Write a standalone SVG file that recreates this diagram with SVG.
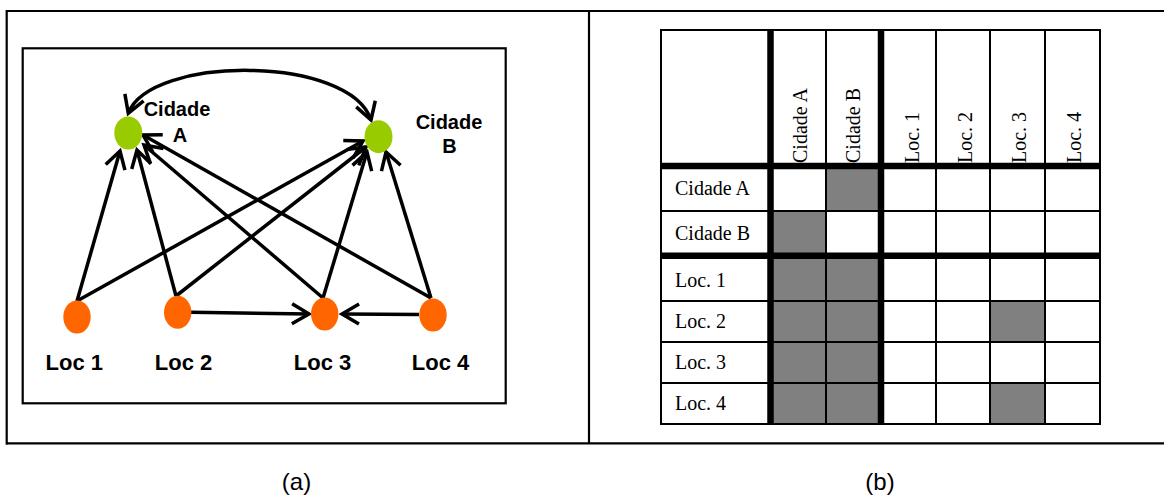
<svg xmlns="http://www.w3.org/2000/svg" width="1164" height="495" viewBox="0 0 1164 495">
<style>
.frame{fill:none;stroke:#000;stroke-width:2.2}
.edge{fill:none;stroke:#000;stroke-width:3.5;marker-end:url(#arr)}
.green{fill:#99CC00}
.orange{fill:#FF6600}
.lbl{font-family:"Liberation Sans",Arial,sans-serif;font-weight:bold;fill:#000;text-anchor:middle}
.cap{font-family:"Liberation Sans",Arial,sans-serif;font-size:24px;fill:#000;text-anchor:middle}
.tt{font-family:"Liberation Serif","Times New Roman",serif;font-size:20px;fill:#000}
.gray{fill:#808080}
.thin{stroke:#000;stroke-width:2}
.thick{stroke:#000;stroke-width:6.5}
</style>
<defs>
<marker id="arr" markerUnits="userSpaceOnUse" markerWidth="40" markerHeight="40" viewBox="-20 -20 40 40" refX="0" refY="0" orient="auto" overflow="visible">
<path d="M-17,-10 L0,0 L-17,10" fill="none" stroke="#000" stroke-width="3.5" stroke-linejoin="miter"/>
</marker>
<marker id="arrs" markerUnits="userSpaceOnUse" markerWidth="40" markerHeight="40" viewBox="-20 -20 40 40" refX="0" refY="0" orient="auto-start-reverse" overflow="visible">
<path d="M-17,-10 L0,0 L-17,10" fill="none" stroke="#000" stroke-width="3.5" stroke-linejoin="miter"/>
</marker>
</defs>

<g id="frame">
<line class="frame" x1="6" y1="11" x2="1164" y2="11"/>
<line class="frame" x1="6" y1="443.3" x2="1164" y2="443.3"/>
<line class="frame" x1="6.7" y1="10" x2="6.7" y2="444.4"/>
<line class="frame" x1="589" y1="11" x2="589" y2="443.3"/>
<rect class="frame" x="22.7" y="48.3" width="483" height="355"/>
</g>

<g id="connectors">
<line class="edge" x1="77" y1="301" x2="120" y2="151"/>
<line class="edge" x1="77" y1="301" x2="363" y2="141"/>
<line class="edge" x1="176" y1="296" x2="137" y2="150"/>
<line class="edge" x1="176" y1="296" x2="366" y2="147"/>
<line class="edge" x1="323" y1="298" x2="144" y2="145"/>
<line class="edge" x1="323" y1="298" x2="367" y2="152"/>
<line class="edge" x1="431" y1="298" x2="143" y2="135"/>
<line class="edge" x1="431" y1="298" x2="386" y2="152"/>
<line class="edge" x1="191" y1="312.3" x2="309" y2="314"/>
<line class="edge" x1="419" y1="314.5" x2="342" y2="314"/>
<path d="M128.3,113.3 C150,55 350,55 371,120" fill="none" stroke="#000" stroke-width="3.5" marker-start="url(#arrs)" marker-end="url(#arr)"/>
</g>

<g id="cidadeA">
<ellipse class="green" cx="128.3" cy="133" rx="14" ry="16.5"/>
<text class="lbl" x="177" y="116" font-size="20">Cidade</text>
<text class="lbl" x="180" y="141.7" font-size="20">A</text>
</g>
<g id="cidadeB">
<ellipse class="green" cx="378.5" cy="136.7" rx="14" ry="16.5"/>
<text class="lbl" x="449" y="128.7" font-size="20">Cidade</text>
<text class="lbl" x="449.5" y="153.3" font-size="20">B</text>
</g>
<g id="loc1">
<ellipse class="orange" cx="77" cy="317" rx="13.7" ry="16.5"/>
<text class="lbl" x="74.3" y="370" font-size="22">Loc 1</text>
</g>
<g id="loc2">
<ellipse class="orange" cx="177.7" cy="312.3" rx="13.7" ry="16.5"/>
<text class="lbl" x="183.5" y="370" font-size="22">Loc 2</text>
</g>
<g id="loc3">
<ellipse class="orange" cx="324.7" cy="314" rx="13.7" ry="16.5"/>
<text class="lbl" x="322.5" y="370" font-size="22">Loc 3</text>
</g>
<g id="loc4">
<ellipse class="orange" cx="433" cy="315" rx="13.7" ry="16.5"/>
<text class="lbl" x="440.5" y="370" font-size="22">Loc 4</text>
</g>

<g id="matrix">
<rect class="gray" x="826" y="166" width="55" height="45"/>
<rect class="gray" x="770.5" y="211" width="55.5" height="44.7"/>
<rect class="gray" x="770.5" y="255.7" width="110.5" height="168.3"/>
<rect class="gray" x="990" y="301" width="55" height="41"/>
<rect class="gray" x="990" y="383" width="55" height="41"/>
<rect x="661" y="30" width="439" height="394" fill="none" stroke="#000" stroke-width="2"/>
<line class="thin" x1="826" y1="30" x2="826" y2="424"/>
<line class="thin" x1="936" y1="30" x2="936" y2="424"/>
<line class="thin" x1="990" y1="30" x2="990" y2="424"/>
<line class="thin" x1="1045" y1="30" x2="1045" y2="424"/>
<line class="thin" x1="661" y1="211" x2="1100" y2="211"/>
<line class="thin" x1="661" y1="301" x2="1100" y2="301"/>
<line class="thin" x1="661" y1="342" x2="1100" y2="342"/>
<line class="thin" x1="661" y1="383" x2="1100" y2="383"/>
<line class="thick" x1="770.5" y1="30" x2="770.5" y2="424"/>
<line class="thick" x1="881" y1="30" x2="881" y2="424"/>
<line class="thick" x1="661" y1="166" x2="1100" y2="166"/>
<line class="thick" x1="661" y1="255.7" x2="1100" y2="255.7"/>
<text class="tt" transform="translate(807,163) rotate(-90)">Cidade A</text>
<text class="tt" transform="translate(860,163) rotate(-90)">Cidade B</text>
<text class="tt" transform="translate(918.5,163) rotate(-90)">Loc. 1</text>
<text class="tt" transform="translate(971.5,163) rotate(-90)">Loc. 2</text>
<text class="tt" transform="translate(1025.5,163) rotate(-90)">Loc. 3</text>
<text class="tt" transform="translate(1081,163) rotate(-90)">Loc. 4</text>
<text class="tt" x="675" y="195">Cidade A</text>
<text class="tt" x="675" y="239.5">Cidade B</text>
<text class="tt" x="675" y="286.5">Loc. 1</text>
<text class="tt" x="675" y="327.7">Loc. 2</text>
<text class="tt" x="675" y="369">Loc. 3</text>
<text class="tt" x="675" y="410">Loc. 4</text>
</g>

<g id="captions">
<text class="cap" x="296.5" y="490">(a)</text>
<text class="cap" x="880" y="490">(b)</text>
</g>
</svg>
